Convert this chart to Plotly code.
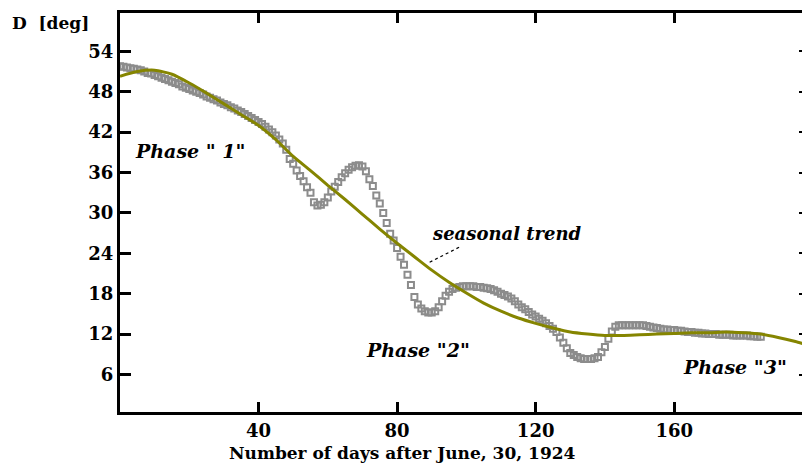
import plotly.graph_objects as go

# Observed declination D (deg), one value per day starting at day 0
obs_days = list(range(0, 186))
obs_D = [
    51.8, 51.7, 51.6, 51.5, 51.4, 51.3, 51.2, 51.0, 50.8, 50.7,
    50.5, 50.3, 50.1, 49.9, 49.7, 49.5, 49.3, 49.1, 48.8, 48.6,
    48.4, 48.2, 48.0, 47.8, 47.6, 47.3, 47.1, 46.9, 46.7, 46.4,
    46.2, 46.0, 45.7, 45.5, 45.2, 45.0, 44.7, 44.4, 44.1, 43.8,
    43.5, 43.2, 42.8, 42.4, 42.0, 41.5, 40.9, 40.3, 39.4, 38.0,
    37.3, 36.3, 35.5, 34.7, 33.8, 33.0, 31.6, 31.1, 31.2, 31.6,
    32.3, 33.2, 33.9, 34.6, 35.3, 35.9, 36.4, 36.8, 37.0, 37.1,
    36.9, 36.2, 35.0, 34.0, 32.6, 31.4, 30.0, 28.5, 26.9, 25.9,
    24.8, 23.5, 22.3, 20.8, 19.3, 17.5, 16.4, 15.8, 15.4, 15.2,
    15.2, 15.4, 16.0, 16.9, 17.7, 18.3, 18.7, 18.9, 19.0, 19.1,
    19.1, 19.1, 19.1, 19.0, 19.0, 18.9, 18.8, 18.7, 18.5, 18.3,
    18.0, 17.8, 17.6, 17.3, 16.9, 16.4, 16.0, 15.7, 15.3, 14.9,
    14.6, 14.3, 14.0, 13.6, 13.2, 12.8, 12.3, 11.5, 10.7, 9.9,
    9.2, 8.9, 8.6, 8.4, 8.3, 8.3, 8.3, 8.4, 8.6, 9.3,
    10.1, 11.3, 12.4, 13.1, 13.3, 13.3, 13.3, 13.3, 13.3, 13.3,
    13.3, 13.3, 13.2, 13.1, 13.0, 12.9, 12.8, 12.7, 12.7, 12.6,
    12.6, 12.5, 12.5, 12.4, 12.3, 12.3, 12.2, 12.2, 12.1, 12.1,
    12.0, 12.0, 12.0, 11.9, 11.9, 11.9, 11.9, 11.8, 11.8, 11.8,
    11.8, 11.8, 11.7, 11.7, 11.6, 11.6,
]

# Seasonal trend (olive curve)
trend_days = [0, 5, 10, 15, 20, 25, 30, 35, 40, 45, 50, 55, 60, 65, 70, 75,
              80, 85, 90, 95, 100, 105, 110, 115, 120, 125, 130, 135, 140,
              145, 150, 155, 160, 165, 170, 175, 180, 185, 190, 195, 197]
trend_D = [50.3, 51.0, 51.2, 50.6, 49.3, 47.8, 46.2, 44.6, 43.0, 40.9, 38.4,
           36.3, 34.1, 32.0, 29.8, 27.6, 25.5, 23.5, 21.5, 19.7, 18.1, 16.6,
           15.4, 14.4, 13.6, 12.9, 12.3, 12.0, 11.8, 11.8, 11.9, 12.0, 12.1,
           12.2, 12.2, 12.3, 12.2, 12.0, 11.5, 10.9, 10.6]

x_ticks = [40, 80, 120, 160]
y_ticks = [6, 12, 18, 24, 30, 36, 42, 48, 54]

FONT = "DejaVu Serif"
GRAY = "#8c8c8c"
OLIVE = "#858500"

fig = go.Figure()
fig.add_trace(go.Scatter(
    x=obs_days, y=obs_D, mode="markers",
    marker=dict(symbol="square-open", size=6, color=GRAY,
                line=dict(width=2, color=GRAY)),
    showlegend=False, hoverinfo="skip"))
fig.add_trace(go.Scatter(
    x=trend_days, y=trend_D, mode="lines",
    line=dict(color=OLIVE, width=3, shape="spline", smoothing=0.6),
    showlegend=False, hoverinfo="skip"))
# dummy trace to materialise the right-hand tick axis
fig.add_trace(go.Scatter(x=[None], y=[None], yaxis="y2", showlegend=False))

fig.update_layout(
    width=802, height=465,
    margin=dict(l=119.5, r=0, t=12.5, b=53),
    paper_bgcolor="white", plot_bgcolor="white",
    font=dict(family=FONT, color="black"),
    xaxis=dict(range=[0, 196.9], tickvals=x_ticks, ticks="inside",
               ticklen=10, tickwidth=2.5, tickcolor="black",
               showline=True, linewidth=3, linecolor="black", mirror="ticks",
               showgrid=False, zeroline=False,
               tickfont=dict(family=FONT, size=18, color="black", weight="bold"),
               ticklabelstandoff=0),
    yaxis=dict(range=[0.43, 59.7], tickvals=y_ticks, ticks="inside",
               ticklen=11, tickwidth=2.5, tickcolor="black",
               showline=True, linewidth=3, linecolor="black",
               showgrid=False, zeroline=False,
               tickfont=dict(family=FONT, size=18, color="black", weight="bold"),
               ticklabelstandoff=0),
    yaxis2=dict(range=[0.43, 59.7], tickvals=y_ticks, overlaying="y",
                side="right", ticks="inside", ticklen=3, tickwidth=2,
                tickcolor="black", showticklabels=False, showline=False,
                showgrid=False, zeroline=False),
)

def bi(size):
    return dict(family=FONT, size=size, color="black", weight="bold",
                style="italic")

labels = [
    (20.1, 39.2, 'Phase " 1"', 19),
    (111.8, 27.0, "seasonal trend", 18),
    (85.9, 9.6, 'Phase "2"', 19),
    (177.6, 7.1, 'Phase "3"', 19),
]
for lx, ly, txt, sz in labels:
    fig.add_annotation(x=lx, y=ly, text=txt, showarrow=False, font=bi(sz),
                       xanchor="center", yanchor="middle")

fig.add_shape(type="line", x0=97.9, y0=24.9, x1=88.7, y1=22.5,
              line=dict(color="black", width=1.2, dash="dot"))

fig.add_annotation(xref="paper", yref="paper", x=-0.102, y=0.976,
                   text="D  [deg]", showarrow=False, xanchor="center",
                   yanchor="middle",
                   font=dict(family=FONT, size=17, color="black", weight="bold"))
fig.add_annotation(xref="paper", yref="paper", x=0.414, y=-0.102,
                   text="Number of days after June, 30, 1924", showarrow=False,
                   xanchor="center", yanchor="middle",
                   font=dict(family=FONT, size=17, color="black", weight="bold"))

fig.write_html("out.html",
               config={"displayModeBar": False},
               post_script="document.body.style.margin='0px';"
                           "document.body.style.overflow='hidden';")
